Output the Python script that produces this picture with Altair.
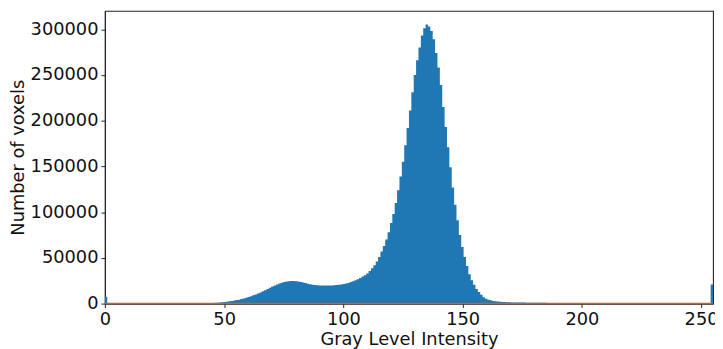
import altair as alt
import pandas as pd

# Histogram counts for 256 gray levels (bins 0..255)
counts_000_015 = [7500, 0, 0, 0, 0, 0, 0, 0, 0, 0, 0, 0, 0, 0, 0, 0]
counts_016_031 = [0, 0, 0, 0, 0, 0, 0, 0, 0, 0, 0, 0, 0, 0, 0, 0]
counts_032_047 = [0, 0, 0, 0, 0, 0, 0, 0, 0, 0, 100, 300, 500, 600, 800, 1000]
counts_048_063 = [1200, 1500, 1800, 2100, 2500, 2900, 3300, 3800, 4300, 4900, 5600, 6400, 7200, 8100, 9000, 10000]
counts_064_079 = [11000, 12200, 13400, 14700, 16000, 17300, 18600, 19800, 21000, 22000, 22900, 23600, 24100, 24500, 24700, 24700]
counts_080_095 = [24500, 24100, 23600, 23000, 22400, 21800, 21200, 20700, 20300, 20000, 19800, 19700, 19700, 19700, 19800, 19900]
counts_096_111 = [20100, 20400, 20700, 21000, 21500, 22000, 22500, 23500, 24500, 25500, 26500, 28000, 29500, 31000, 33000, 35500]
counts_112_127 = [38500, 42000, 46000, 51000, 57000, 63000, 70000, 78000, 88000, 98000, 110000, 124000, 139000, 155000, 173000, 192000]
counts_128_143 = [211000, 231000, 250000, 266000, 280000, 293000, 301000, 305000, 303000, 298000, 289000, 274000, 258000, 239000, 215000, 193000]
counts_144_159 = [171000, 149000, 127000, 108000, 91000, 75000, 62000, 51000, 41000, 32000, 25500, 20500, 16000, 12600, 9700, 7000]
counts_160_175 = [5400, 4300, 3600, 2900, 2600, 2400, 2000, 1800, 1600, 1400, 1400, 1300, 1300, 1200, 1200, 1100]
counts_176_191 = [1100, 1000, 1000, 1000, 900, 900, 900, 800, 800, 800, 0, 0, 0, 0, 0, 0]
counts_192_207 = [0, 0, 0, 0, 0, 0, 0, 0, 0, 0, 0, 0, 0, 0, 0, 0]
counts_208_223 = [0, 0, 0, 0, 0, 0, 0, 0, 0, 0, 0, 0, 0, 0, 0, 0]
counts_224_239 = [0, 0, 0, 0, 0, 0, 0, 0, 0, 0, 0, 0, 0, 0, 0, 0]
counts_240_255 = [0, 0, 0, 0, 0, 0, 0, 0, 0, 0, 0, 0, 0, 0, 0, 21000]

counts = (counts_000_015 + counts_016_031 + counts_032_047 + counts_048_063 +
          counts_064_079 + counts_080_095 + counts_096_111 + counts_112_127 +
          counts_128_143 + counts_144_159 + counts_160_175 + counts_176_191 +
          counts_192_207 + counts_208_223 + counts_224_239 + counts_240_255)

# second (orange) series: flat at zero over the full range
orange_x = [0, 255]
orange_y = [0, 0]

x_ticks = [0, 50, 100, 150, 200, 250]
y_ticks = [0, 50000, 100000, 150000, 200000, 250000, 300000]

n = len(counts)
lo, hi = 0, 255
width_bin = (hi - lo) / n
# step outline: one point per bin left edge, plus closing right edge
edges = [lo + i * width_bin for i in range(n)] + [hi]
heights = counts + [counts[-1]]
hist = pd.DataFrame({"edge": edges, "count": heights})
line_df = pd.DataFrame({"x": orange_x, "y": orange_y})

FONT = "DejaVu Sans"
xscale = alt.Scale(domain=[0, 255], nice=False, zero=False)
yscale = alt.Scale(domain=[0, 320000], nice=False)

bars = alt.Chart(hist).mark_area(color="#1f77b4", interpolate="step-after", opacity=1).encode(
    x=alt.X("edge:Q", scale=xscale,
            axis=alt.Axis(values=x_ticks, title="Gray Level Intensity", format="d",
                          labelFlush=False)),
    y=alt.Y("count:Q", scale=yscale,
            axis=alt.Axis(values=y_ticks, title="Number of voxels", format="d")),
)

line = alt.Chart(line_df).mark_line(color="#c0662a", strokeWidth=1.5).encode(
    x=alt.X("x:Q", scale=xscale),
    y=alt.Y("y:Q", scale=yscale),
)

chart = alt.layer(bars, line).properties(
    width=615, height=296,
    autosize=alt.AutoSizeParams(type="none"),
    padding={"left": 98, "top": 1, "right": 2, "bottom": 44},
).configure_view(
    stroke="#222", strokeWidth=1.1
).configure_axis(
    grid=False,
    domainColor="#222",
    tickColor="#222",
    tickSize=4,
    labelFont=FONT, labelFontSize=18, labelColor="#111", labelPadding=3,
    titleFont=FONT, titleFontSize=18, titleColor="#111", titleFontWeight="normal",
).configure_axisY(titlePadding=3).configure_axisX(titlePadding=2)

chart.save("out.html", embed_options={"renderer": "svg", "actions": False})
